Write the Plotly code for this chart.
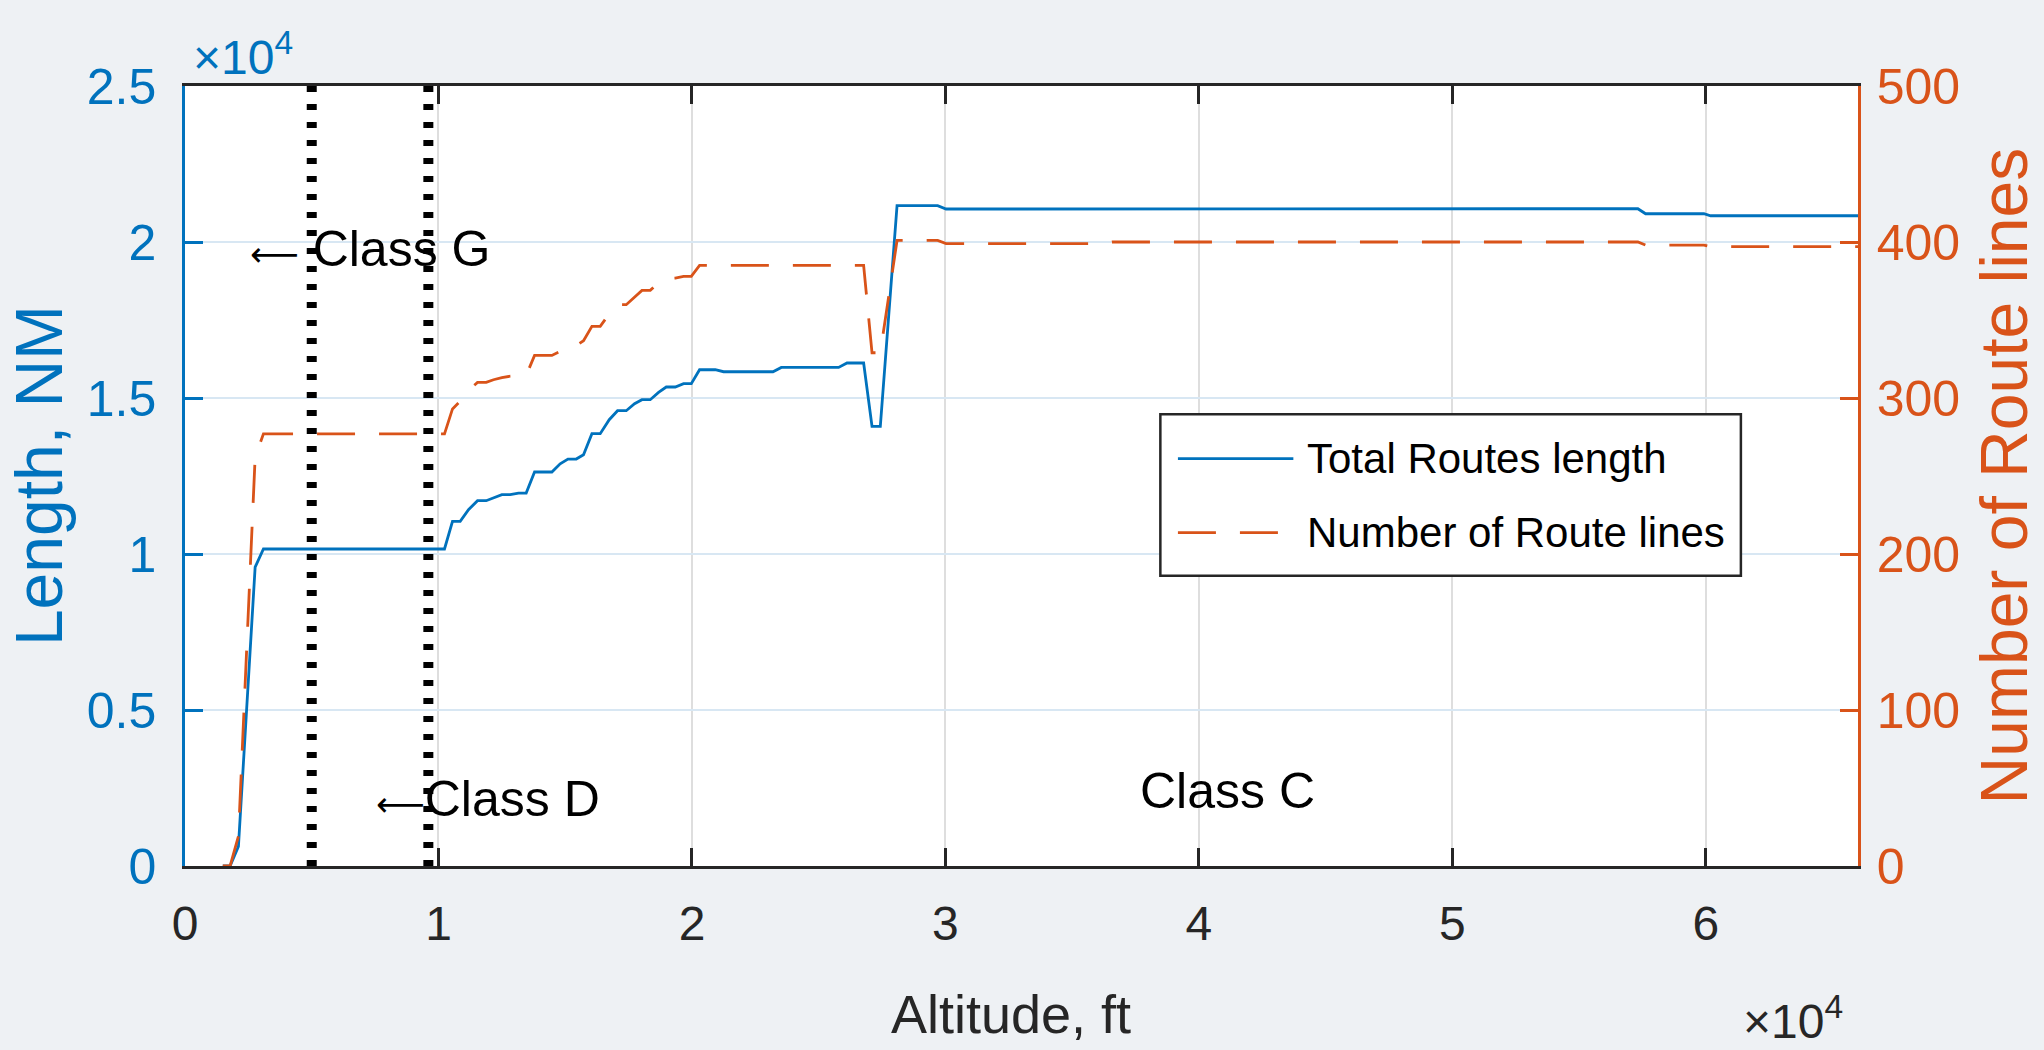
import plotly.graph_objects as go

# ---- data ----
alt_len = [1490, 1780, 2108, 2767, 3095, 10237, 10553, 10857, 11184, 11540, 11882, 12171,
           12500, 12830, 13157, 13460, 13790, 14474, 14800, 15107, 15434, 15722, 16053,
           16381, 16736, 17064, 17407, 17735, 18027, 18354, 18682, 18986, 19341, 19669,
           19973, 20300, 20920, 21247, 23196, 23524, 25785, 26117, 26772, 27103, 27430,
           28090, 29693, 30024, 36243, 36570, 57316, 57620, 59921, 60185, 66000]
total_len = [0, 0, 628, 9580, 10160, 10160, 11044, 11044, 11420, 11708, 11708, 11794,
             11900, 11900, 11954, 11954, 12628, 12628, 12893, 13044, 13044, 13182, 13855,
             13855, 14304, 14593, 14593, 14817, 14945, 14945, 15180, 15352, 15352, 15458,
             15458, 15906, 15906, 15842, 15842, 15980, 15980, 16121, 16121, 14089, 14089,
             21166, 21166, 21057, 21057, 21070, 21067, 20906, 20906, 20842, 20842]

alt_num = [1490, 1780, 2108, 2767, 3095, 10237, 10553, 10857, 11184, 11540, 11882, 12171,
           12500, 12830, 13157, 13460, 13790, 14474, 14800, 15107, 15434, 15722, 16053,
           16381, 16736, 17064, 17407, 17735, 18027, 18354, 18682, 18986, 19341, 19669,
           19973, 20300, 26772, 27103, 27430, 28090, 29693, 30024, 36243, 36570, 57316,
           57620, 59921, 60185, 66000]
num_routes = [0, 0, 19, 262, 277, 277, 293, 298, 305, 310, 310, 311.7,
              313, 314, 314.5, 314.5, 327.3, 327.3, 330, 333.7, 333.7, 336.7, 345.9,
              345.9, 354, 359.8, 359.8, 365, 369, 369, 374, 376.5, 376.9, 378,
              378, 385, 385, 329, 329, 401, 401, 399, 399, 400, 400,
              398, 398, 397, 397]

class_bounds = [5000, 9600]
x_tickvals = [0, 10000, 20000, 30000, 40000, 50000, 60000]
x_ticktext = ["0", "1", "2", "3", "4", "5", "6"]
y1_tickvals = [0, 5000, 10000, 15000, 20000, 25000]
y1_ticktext = ["0", "0.5", "1", "1.5", "2", "2.5"]
y2_tickvals = [0, 100, 200, 300, 400, 500]
ARROW = '<span style="font-family:DejaVu Sans;font-size:34px">\u27f5</span>'
class_labels = [(ARROW + " Class G", 2490, 19785), (ARROW + "Class D", 7463, 2150), ("Class C", 37600, 2400)]
legend_names = ["Total Routes length", "Number of Route lines"]

BLUE = "#0072BD"
ORANGE = "#D95319"
DARK = "#262626"
FONT = "Liberation Sans, Arial, sans-serif"

fig = go.Figure()
fig.add_trace(go.Scatter(x=alt_len, y=total_len, mode="lines", name=legend_names[0],
                         line=dict(color=BLUE, width=2.8), yaxis="y"))
fig.add_trace(go.Scatter(x=alt_num, y=num_routes, mode="lines", name=legend_names[1],
                         line=dict(color=ORANGE, width=2.8, dash="38px,24px"), yaxis="y2"))

shapes = []
for xb in class_bounds:
    shapes.append(dict(type="line", xref="x", yref="paper", x0=xb, x1=xb, y0=0, y1=1,
                       line=dict(color="black", width=10, dash="6px,12px"), layer="above"))

# manual legend box
lx0, lx1, ly0, ly1 = 0.583, 0.930, 0.3722, 0.5792
shapes.append(dict(type="rect", xref="paper", yref="paper", x0=lx0, x1=lx1, y0=ly0, y1=ly1,
                   line=dict(color="#262626", width=2.5), fillcolor="white", layer="above"))
shapes.append(dict(type="line", xref="paper", yref="paper", x0=0.5935, x1=0.6625, y0=0.5222, y1=0.5222,
                   line=dict(color=BLUE, width=2.8), layer="above"))
shapes.append(dict(type="line", xref="paper", yref="paper", x0=0.5935, x1=0.6625, y0=0.4273, y1=0.4273,
                   line=dict(color=ORANGE, width=2.8, dash="38px,24px"), layer="above"))

annotations = []
for i, (nm, yy) in enumerate(zip(legend_names, [0.5222, 0.4273])):
    annotations.append(dict(text=nm, xref="paper", yref="paper", x=0.6695, y=yy, xanchor="left",
                            yanchor="middle", showarrow=False, font=dict(family=FONT, size=42, color="black")))
for txt, xx, yy in class_labels:
    annotations.append(dict(text=txt, xref="x", yref="y", x=xx, y=yy, xanchor="left", yanchor="middle",
                            showarrow=False, font=dict(family=FONT, size=50, color="black")))
annotations += [
    dict(text="\u00d710<sup>4</sup>", xref="paper", yref="paper", x=0.0036, y=1.0, xanchor="left",
         yanchor="bottom", showarrow=False, font=dict(family=FONT, size=48, color=BLUE)),
    dict(text="\u00d710<sup>4</sup>", xref="paper", yref="paper", x=0.992, y=-0.236, xanchor="right",
         yanchor="bottom", showarrow=False, font=dict(family=FONT, size=48, color=DARK)),
    dict(text="Altitude, ft", xref="paper", yref="paper", x=0.494, y=-0.19, xanchor="center",
         yanchor="middle", showarrow=False, font=dict(family=FONT, size=54, color=DARK)),
    dict(text="Length, NM", xref="paper", yref="paper", x=-0.0872, y=0.5, xanchor="center",
         yanchor="middle", textangle=-90, showarrow=False, font=dict(family=FONT, size=66, color=BLUE)),
    dict(text="Number of Route lines", xref="paper", yref="paper", x=1.0875, y=0.5, xanchor="center",
         yanchor="middle", textangle=-90, showarrow=False, font=dict(family=FONT, size=66, color=ORANGE)),
]

fig.update_layout(
    width=2044, height=1050,
    margin=dict(l=185, r=186, t=86, b=184, pad=0),
    paper_bgcolor="#eef1f4", plot_bgcolor="white",
    showlegend=False,
    font=dict(family=FONT, size=48, color=DARK),
    shapes=shapes, annotations=annotations,
    xaxis=dict(range=[0, 66000], tickvals=x_tickvals, ticktext=x_ticktext,
               showline=True, linecolor=DARK, linewidth=2.5, mirror="ticks",
               ticks="inside", ticklen=18, tickwidth=2.5, tickcolor=DARK,
               showgrid=True, gridcolor="#dedede", gridwidth=2, zeroline=False,
               tickfont=dict(family=FONT, size=48, color=DARK), ticklabelstandoff=14),
    yaxis=dict(range=[0, 25000], tickvals=y1_tickvals, ticktext=y1_ticktext,
               showline=True, linecolor=BLUE, linewidth=2.5, mirror=False,
               ticks="inside", ticklen=18, tickwidth=2.5, tickcolor=BLUE,
               showgrid=True, gridcolor="#d8e7f3", gridwidth=2, zeroline=False,
               tickfont=dict(family=FONT, size=50, color=BLUE), ticklabelstandoff=16),
    yaxis2=dict(range=[0, 500], tickvals=y2_tickvals, overlaying="y", side="right",
                showline=True, linecolor=ORANGE, linewidth=2.5,
                ticks="inside", ticklen=18, tickwidth=2.5, tickcolor=ORANGE,
                showgrid=False, zeroline=False,
                tickfont=dict(family=FONT, size=50, color=ORANGE), ticklabelstandoff=6),
)

fig.write_html("out.html", config={"displayModeBar": False},
               post_script="document.body.style.margin='0';document.body.style.background='#eef1f4';")
